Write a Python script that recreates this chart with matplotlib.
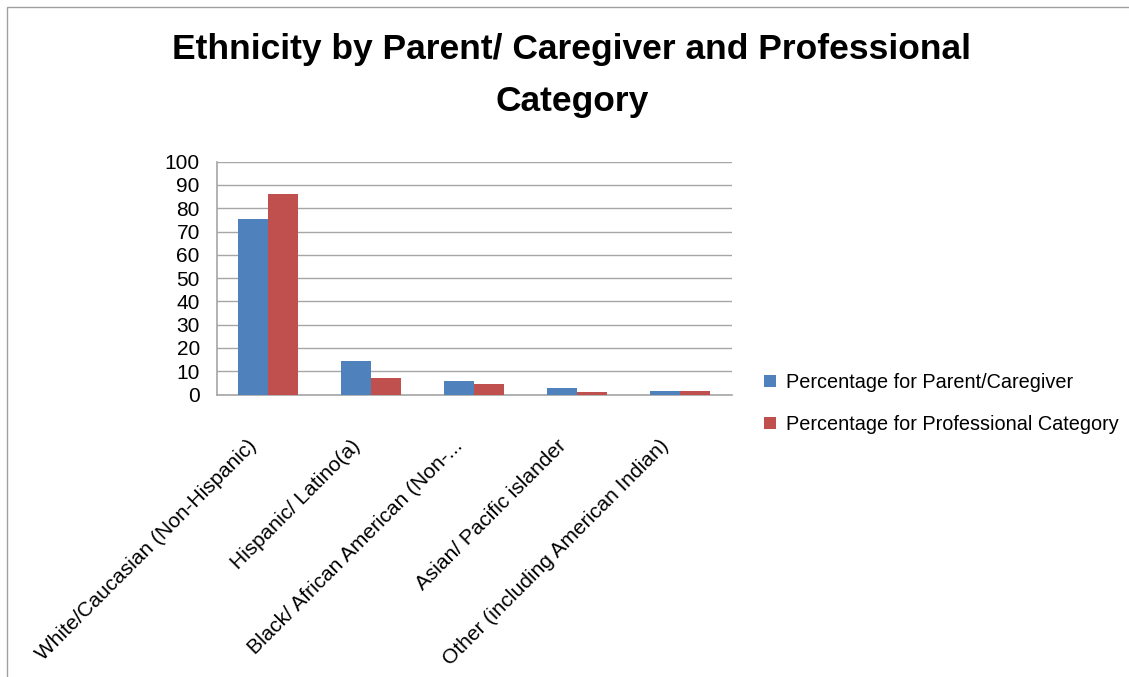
import matplotlib
matplotlib.use("Agg")
import matplotlib.pyplot as plt
import numpy as np
from matplotlib.patches import Rectangle

categories = ["White/Caucasian (Non-Hispanic)", "Hispanic/ Latino(a)",
              "Black/ African American (Non-...", "Asian/ Pacific islander",
              "Other (including American Indian)"]
parent = [75.4, 14.6, 6.0, 3.0, 1.7]
professional = [86.1, 6.9, 4.7, 0.9, 1.7]
series_names = ["Percentage for Parent/Caregiver", "Percentage for Professional Category"]
yticks = [0, 10, 20, 30, 40, 50, 60, 70, 80, 90, 100]

plt.rcParams['font.family'] = ['Liberation Sans', 'DejaVu Sans']

fig = plt.figure(figsize=(11.29, 6.77), dpi=100)
W, H = 1129, 677
# chart border
fig.patches.append(Rectangle((7 / W, -0.01), 1.1, 1 - 7 / H + 0.01, transform=fig.transFigure,
                             fill=False, edgecolor='#a0a0a0', linewidth=1))

ax = fig.add_axes([216.5 / W, 1 - 394.5 / H, (731.5 - 216.5) / W, (394.5 - 161.7) / H])
x = np.arange(len(categories))
w = 30 / 103
ax.bar(x - w / 2, parent, width=w, color='#4F81BD', label=series_names[0], zorder=3)
ax.bar(x + w / 2, professional, width=w, color='#C0504D', label=series_names[1], zorder=3)

ax.set_xlim(-0.5, len(categories) - 0.5)
ax.set_ylim(0, 100)
ax.set_yticks(yticks)
ax.set_yticklabels([str(v) for v in yticks], fontsize=15)
ax.yaxis.grid(True, color='#a6a6a6', linewidth=1, zorder=0)
ax.tick_params(axis='y', length=0, pad=12)
ax.tick_params(axis='x', length=0, pad=30)
ax.set_xticks(x - 0.2)
ax.set_xticklabels(categories, rotation=45, ha='right', va='top',
                   rotation_mode='anchor', fontsize=15)
for s in ['top', 'right']:
    ax.spines[s].set_visible(False)
for s in ['left', 'bottom']:
    ax.spines[s].set_color('#a6a6a6')
    ax.spines[s].set_linewidth(1.2)

fig.text(572 / W, 1 - 50 / H, "Ethnicity by Parent/ Caregiver and Professional",
         ha='center', va='center', fontsize=25.5, fontweight='bold')
fig.text(572 / W, 1 - 102 / H, "Category",
         ha='center', va='center', fontsize=25.5, fontweight='bold')

fig.legend(loc='center left', bbox_to_anchor=(746 / W, 1 - 403.5 / H), frameon=False,
           fontsize=14.3, handlelength=0.6, handleheight=0.6, handletextpad=0.5,
           labelspacing=1.15)

fig.savefig("out.png", dpi=100)
